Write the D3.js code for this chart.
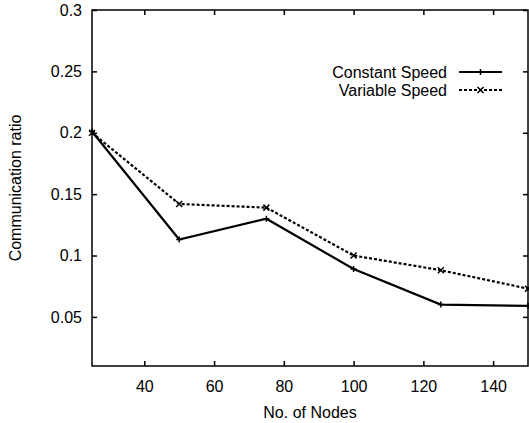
<!DOCTYPE html>
<html>
<head>
<meta charset="utf-8">
<script src="https://cdn.jsdelivr.net/npm/d3@7"></script>
<style>
  body { margin: 0; background: #fff; }
  text { font-family: "Liberation Sans", Arial, sans-serif; fill: #000; }
</style>
</head>
<body>
<div id="chart"></div>
<script>
const nodes = [25, 50, 75, 100, 125, 150];
const constantSpeed = [0.201, 0.113, 0.130, 0.089, 0.060, 0.059];
const variableSpeed = [0.200, 0.142, 0.139, 0.100, 0.088, 0.073];
const xTicks = [40, 60, 80, 100, 120, 140];
const yTicks = [0.05, 0.1, 0.15, 0.2, 0.25, 0.3];
const seriesNames = ['Constant Speed', 'Variable Speed'];

const w = 529;
const h = 423;
const padLeft = 92, padRight = 528, padTop = 10, padBottom = 366;

const svg = d3.select('#chart').append('svg')
  .attr('width', w)
  .attr('height', h);

const xScale = d3.scaleLinear().domain([25, 150]).range([padLeft, padRight]);
const yScale = d3.scaleLinear().domain([0.01, 0.3]).range([padBottom, padTop]);

// frame
svg.append('rect')
  .attr('x', padLeft).attr('y', padTop)
  .attr('width', padRight - padLeft).attr('height', padBottom - padTop)
  .attr('fill', 'none').attr('stroke', '#000').attr('stroke-width', 1.5);

// axes, ticks inward and mirrored
const xAxis = d3.axisBottom(xScale).tickValues(xTicks).tickSizeInner(-5).tickSizeOuter(0).tickPadding(15);
const yAxis = d3.axisLeft(yScale).tickValues(yTicks).tickSizeInner(-5).tickSizeOuter(0).tickPadding(10)
  .tickFormat(d3.format('~g'));

const gx = svg.append('g').attr('transform', 'translate(0,' + padBottom + ')').call(xAxis);
const gy = svg.append('g').attr('transform', 'translate(' + padLeft + ',0)').call(yAxis);
const gxTop = svg.append('g').attr('transform', 'translate(0,' + padTop + ')')
  .call(d3.axisTop(xScale).tickValues(xTicks).tickSizeInner(-5).tickSizeOuter(0).tickFormat(''));
const gyRight = svg.append('g').attr('transform', 'translate(' + padRight + ',0)')
  .call(d3.axisRight(yScale).tickValues(yTicks).tickSizeInner(-5).tickSizeOuter(0).tickFormat(''));

[gx, gy, gxTop, gyRight].forEach(g => {
  g.select('.domain').remove();
  g.selectAll('line').attr('stroke', '#000').attr('stroke-width', 1.5);
  g.selectAll('text').style('font-size', '16px').attr('font-family', null);
});

svg.append('text')
  .attr('x', (padLeft + padRight) / 2)
  .attr('y', 418)
  .attr('text-anchor', 'middle')
  .style('font-size', '16px')
  .text('No. of Nodes');

svg.append('text')
  .attr('transform', 'translate(21,' + (padTop + padBottom) / 2 + ') rotate(-90)')
  .attr('text-anchor', 'middle')
  .style('font-size', '16px')
  .text('Communication ratio');

const line = d3.line()
  .x((d, i) => xScale(nodes[i]))
  .y(d => yScale(d));

const styles = [
  { data: constantSpeed, dash: null, marker: 'plus' },
  { data: variableSpeed, dash: '3,2', marker: 'cross' }
];

function drawMarker(g, x, y, type) {
  const s = 3;
  const p = type === 'plus'
    ? `M${x - s},${y}L${x + s},${y}M${x},${y - s}L${x},${y + s}`
    : `M${x - s},${y - s}L${x + s},${y + s}M${x - s},${y + s}L${x + s},${y - s}`;
  g.append('path').attr('d', p).attr('stroke', '#000').attr('stroke-width', 1.5).attr('fill', 'none');
}

styles.forEach(st => {
  svg.append('path')
    .datum(st.data)
    .attr('d', line)
    .attr('fill', 'none')
    .attr('stroke', '#000')
    .attr('stroke-width', 2.2)
    .attr('stroke-dasharray', st.dash);
  const g = svg.append('g');
  st.data.forEach((d, i) => drawMarker(g, xScale(nodes[i]), yScale(d), st.marker));
});

// legend
const legend = svg.append('g');
seriesNames.forEach((name, i) => {
  const y = 72 + i * 18;
  legend.append('text')
    .attr('x', 447).attr('y', y + 6)
    .attr('text-anchor', 'end')
    .style('font-size', '16px')
    .text(name);
  legend.append('line')
    .attr('x1', 459).attr('x2', 502).attr('y1', y).attr('y2', y)
    .attr('stroke', '#000').attr('stroke-width', 2.2)
    .attr('stroke-dasharray', styles[i].dash);
  drawMarker(legend, 480.5, y, styles[i].marker);
});
</script>
</body>
</html>
